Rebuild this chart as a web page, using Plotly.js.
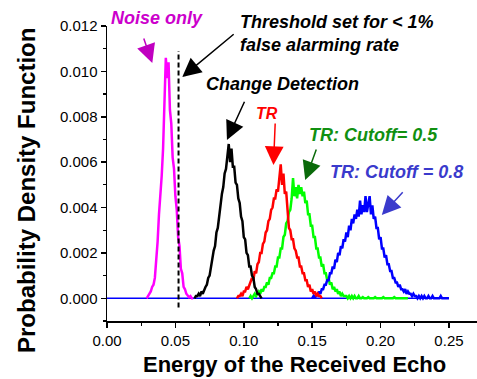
<!DOCTYPE html>
<html>
<head>
<meta charset="utf-8">
<script src="https://cdn.plot.ly/plotly-3.0.1.min.js"></script>
<style>html,body{margin:0;padding:0;background:#fff;}#chart{width:477px;height:379px;}</style>
</head>
<body>
<div id="chart"></div>
<script>
// Bin width of the histograms (energy units)
const binWidth = 0.001;

// Noise only (magenta)
const noiseStart = 0.029;
const noiseY = [0, 0.0001, 0.0002, 0.0003, 0.0005, 0.0006, 0.0009, 0.0016, 0.0025, 0.0037,
  0.0044, 0.0054, 0.0066, 0.0087, 0.0106, 0.0097, 0.0104, 0.0083, 0.0077, 0.0062,
  0.0057, 0.0045, 0.0039, 0.0027, 0.0023, 0.0013, 0.0011, 0.0005, 0.0004, 0.0002,
  0.0001, 0.00005, 0.0001, 0, 0];

// Change Detection (black)
const changeStart = 0.064;
const changeY = [0, 0.0001, 0.0001, 0.0002, 0.0001, 0.0003, 0.0002, 0.0004, 0.0005, 0.0006,
  0.0009, 0.0010, 0.0014, 0.0016, 0.0021, 0.0023, 0.0029, 0.0031, 0.0037, 0.0040,
  0.0046, 0.0049, 0.0055, 0.0057, 0.0064, 0.0068, 0.0060, 0.0066, 0.0058, 0.0058,
  0.0051, 0.0050, 0.0044, 0.0042, 0.0036, 0.0034, 0.0027, 0.0026, 0.0020, 0.0019,
  0.0014, 0.0014, 0.0010, 0.0009, 0.0005, 0.0004, 0.0002, 0.0002, 0.0001, 0];

// TR (red)
const trStart = 0.095;
const trY = [0, 0.0001, 0.0001, 0.0002, 0.0001, 0.0003, 0.0003, 0.0005, 0.0004, 0.0006,
  0.0007, 0.0009, 0.0008, 0.0012, 0.0011, 0.0015, 0.0016, 0.0020, 0.0020, 0.0024,
  0.0025, 0.0029, 0.0030, 0.0034, 0.0035, 0.0039, 0.0040, 0.0044, 0.0044, 0.0048,
  0.0047, 0.0053, 0.0059, 0.0050, 0.0055, 0.0046, 0.0047, 0.0039, 0.0031, 0.0030,
  0.0026, 0.0026, 0.0022, 0.0021, 0.0018, 0.0018, 0.0014, 0.0014, 0.0011, 0.0011,
  0.0008, 0.0008, 0.0005, 0.0006, 0.0003, 0.0004, 0.0002, 0.0003, 0.0001, 0.0002,
  0.0001, 0.0001, 0];

// TR: Cutoff = 0.5 (green)
const cut05Start = 0.104;
const cut05Y = [0, 0.0001, 0, 0.0001, 0.0002, 0.0001, 0.0002, 0.0003, 0.0002, 0.0004,
  0.0003, 0.0005, 0.0005, 0.0007, 0.0006, 0.0009, 0.0009, 0.0011, 0.0011, 0.0014,
  0.0014, 0.0018, 0.0018, 0.0022, 0.0022, 0.0027, 0.0028, 0.0033, 0.0034, 0.0038,
  0.0039, 0.0044, 0.0053, 0.0045, 0.0049, 0.0044, 0.0050, 0.0046, 0.0049, 0.0045,
  0.0047, 0.0042, 0.0043, 0.0037, 0.0037, 0.0032, 0.0032, 0.0027, 0.0027, 0.0022,
  0.0022, 0.0018, 0.0018, 0.0014, 0.0015, 0.0011, 0.0011, 0.0008, 0.0009, 0.0006,
  0.0007, 0.0004, 0.0005, 0.0003, 0.0004, 0.0002, 0.0003, 0.0001, 0.0002, 0.0001,
  0.0001, 0.0001, 0, 0.0001, 0, 0.0001, 0, 0.0001, 0, 0,
  0.0001, 0, 0, 0.00005, 0, 0, 0, 0.00005, 0, 0,
  0, 0, 0.00005, 0, 0, 0, 0, 0, 0.00005, 0,
  0, 0, 0, 0, 0, 0, 0.00005, 0, 0, 0,
  0, 0, 0, 0, 0, 0, 0];

// TR: Cutoff = 0.8 (blue)
const cut08Start = 0.150;
const cut08Y = [0, 0.0001, 0, 0.0002, 0.0001, 0.0003, 0.0002, 0.0004, 0.0004, 0.0006,
  0.0006, 0.0008, 0.0008, 0.0011, 0.0011, 0.0014, 0.0013, 0.0017, 0.0016, 0.0020,
  0.0019, 0.0023, 0.0022, 0.0026, 0.0025, 0.0029, 0.0027, 0.0032, 0.0030, 0.0035,
  0.0033, 0.0037, 0.0035, 0.0039, 0.0036, 0.0043, 0.0037, 0.0041, 0.0038, 0.0045,
  0.0038, 0.0042, 0.0045, 0.0037, 0.0041, 0.0035, 0.0036, 0.0031, 0.0031, 0.0026,
  0.0027, 0.0022, 0.0022, 0.0018, 0.0019, 0.0015, 0.0015, 0.0012, 0.0012, 0.0009,
  0.0009, 0.0007, 0.0007, 0.0005, 0.0006, 0.0004, 0.0004, 0.0003, 0.0004, 0.0002,
  0.0003, 0.0002, 0.0002, 0.0001, 0.0002, 0.0001, 0.0001, 0, 0.0001, 0,
  0.0001, 0, 0.0001, 0, 0, 0.0001, 0, 0, 0.0001, 0,
  0, 0, 0, 0, 0.0001, 0, 0, 0, 0, 0, 0];

// Zero baseline of the blue series
const baselineX = [0, 0.25];
const baselineY = [0, 0];

// Detection threshold (dashed line)
const thresholdX = [0.0523, 0.0523];
const thresholdY = [-0.0004, 0.0109];

// Tick labels
const xTickVals = [0, 0.05, 0.10, 0.15, 0.20, 0.25];
const yTickVals = [0, 0.002, 0.004, 0.006, 0.008, 0.010, 0.012];

const FONT = 'Liberation Sans, Arial, sans-serif';

function hist(y, start, color) {
  return {type: 'scatter', mode: 'lines', y: y, x0: start, dx: binWidth,
    line: {color: color, width: 2.5, shape: 'linear'}, hoverinfo: 'skip', showlegend: false};
}

const traces = [
  {type: 'scatter', mode: 'lines', x: baselineX, y: baselineY,
    line: {color: '#0000ff', width: 1.5}, showlegend: false},
  hist(cut05Y, cut05Start, '#00ff00'),
  hist(cut08Y, cut08Start, '#0000ff'),
  hist(trY, trStart, '#ff0000'),
  hist(changeY, changeStart, '#000000'),
  hist(noiseY, noiseStart, '#ff00ff'),
  {type: 'scatter', mode: 'lines', x: thresholdX, y: thresholdY,
    line: {color: '#000000', width: 2, dash: '5px,3px'}, showlegend: false}
];

function label(text, x, y, color, size, opts) {
  return Object.assign({xref: 'paper', yref: 'paper', x: x, y: y, text: text, showarrow: false,
    xanchor: 'center', yanchor: 'middle',
    font: {family: FONT, size: size, color: color}}, opts || {});
}
function arrow(hx, hy, tx, ty, color) {
  return {xref: 'x', yref: 'y', axref: 'x', ayref: 'y', x: hx, y: hy, ax: tx, ay: ty,
    text: '', showarrow: true, arrowhead: 2, arrowsize: 2.5, arrowwidth: 1.5,
    arrowcolor: color, standoff: 0, startstandoff: 0};
}

const annotations = [
  label('<b><i>Noise only</i></b>', 0.135, 1.027, '#cc00cc', 18),
  label('<b><i>Threshold set for &lt; 1%<br>false alarming rate</i></b>', 0.354, 0.976, '#000000', 18, {xanchor: 'left', align: 'left'}),
  label('<b><i>Change Detection</i></b>', 0.473, 0.803, '#000000', 18),
  label('<b><i>TR</i></b>', 0.4316, 0.702, '#ff0000', 16),
  label('<b><i>TR: Cutoff= 0.5</i></b>', 0.7216, 0.6305, '#119011', 18),
  label('<b><i>TR: Cutoff = 0.8</i></b>', 0.7824, 0.5051, '#3a3acc', 18),
  label('<b>Energy of the Received Echo</b>', 0.508, -0.146, '#000000', 22),
  label('<b>Probability Density Function</b>', -0.219, 0.444, '#000000', 24, {textangle: -90}),
  arrow(0.0331, 0.01037, 0.0265, 0.01151, '#c000c0'),
  arrow(0.0550, 0.00975, 0.0937, 0.01169, '#000000'),
  arrow(0.0877, 0.00698, 0.1010, 0.00873, '#000000'),
  arrow(0.1217, 0.00587, 0.1230, 0.00777, '#ff0000'),
  arrow(0.1449, 0.00521, 0.1534, 0.00662, '#0a6a0a'),
  arrow(0.2009, 0.00367, 0.2172, 0.00474, '#3a3acc')
];

const layout = {
  width: 477, height: 379,
  margin: {l: 107, r: 0, t: 26, b: 58, pad: 0},
  paper_bgcolor: '#ffffff', plot_bgcolor: '#ffffff',
  font: {family: FONT, size: 15, color: '#000000'},
  showlegend: false,
  xaxis: {range: [0, 0.2705], tickvals: xTickVals, tickformat: '.2f',
    showgrid: false, zeroline: false, showline: true, linecolor: '#000', linewidth: 1.5,
    ticks: 'outside', ticklen: 5, tickwidth: 1.5, tickcolor: '#000',
    tickfont: {family: FONT, size: 15},
    minor: {dtick: 0.025, tick0: 0, ticks: 'outside', ticklen: 3, tickwidth: 1.2, tickcolor: '#000'}},
  yaxis: {range: [-0.001, 0.012], tickvals: yTickVals, tickformat: '.3f',
    showgrid: false, zeroline: false, showline: true, linecolor: '#000', linewidth: 1.5,
    ticks: 'outside', ticklen: 5, tickwidth: 1.5, tickcolor: '#000',
    tickfont: {family: FONT, size: 15},
    minor: {dtick: 0.001, tick0: 0, ticks: 'outside', ticklen: 3, tickwidth: 1.2, tickcolor: '#000'}},
  annotations: annotations
};

Plotly.newPlot('chart', traces, layout, {staticPlot: true, displayModeBar: false});
</script>
</body>
</html>
